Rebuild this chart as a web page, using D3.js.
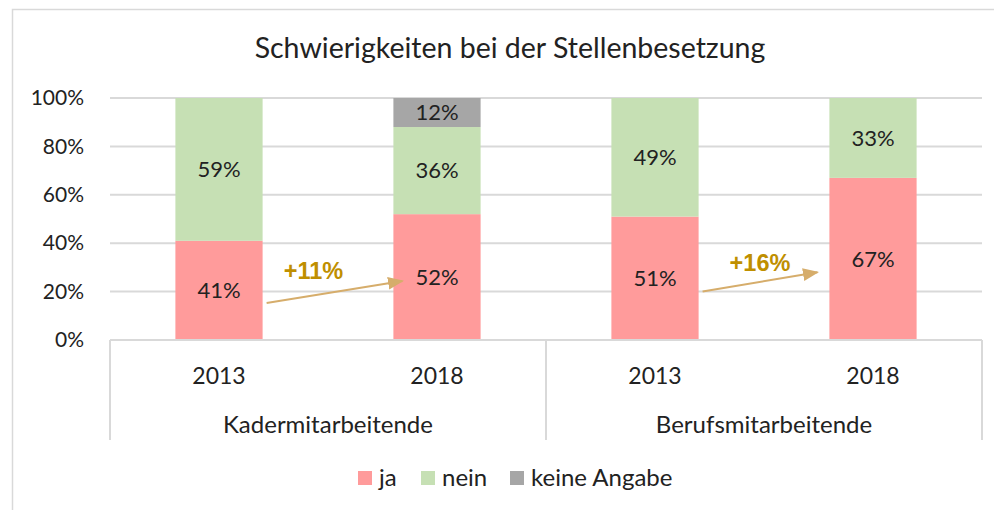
<!DOCTYPE html>
<html>
<head>
<meta charset="utf-8">
<script src="https://cdn.jsdelivr.net/npm/d3@7"></script>
<style>
  body { margin: 0; background: #fff; }
  svg text { font-family: Lato, "Open Sans", sans-serif; fill: #222; }
</style>
</head>
<body>
<div id="chart"></div>
<script>
// data
var groups = ["Kadermitarbeitende", "Berufsmitarbeitende"];
var years = ["2013", "2018", "2013", "2018"];
var ja = [41, 52, 51, 67];
var nein = [59, 36, 49, 33];
var keine = [0, 12, 0, 0];
var seriesNames = ["ja", "nein", "keine Angabe"];
var yTicks = [0, 20, 40, 60, 80, 100];
// arrows: from bar i to bar i+1, values in %
var arrowFrom = [0, 2];
var arrowStart = [15.3, 20];
var arrowEnd = [24.4, 28];
var arrowText = ["+11%", "+16%"];
var arrowTextY = [28.5, 32];

var colors = ["#ff9b9b", "#c6e0b4", "#a6a6a6"];

var width = 994, height = 510;
var margin = { top: 98, left: 110, right: 12, bottom: 170 };
var plotW = width - margin.left - margin.right;
var plotH = height - margin.top - margin.bottom;

const svg = d3.select("#chart").append("svg")
  .attr("width", width)
  .attr("height", height);

// outer frame
svg.append("rect")
  .attr("x", 12.5).attr("y", 9.5)
  .attr("width", 1000).attr("height", 520)
  .attr("fill", "none")
  .attr("stroke", "#d9d9d9")
  .attr("stroke-width", 1.5);

svg.append("text")
  .attr("x", 510).attr("y", 58)
  .attr("text-anchor", "middle")
  .style("font-size", "28.5px")
  .text("Schwierigkeiten bei der Stellenbesetzung");

const container = svg.append("g")
  .attr("transform", `translate(${margin.left}, ${margin.top})`);

const xScale = d3.scaleBand()
  .domain(d3.range(years.length))
  .range([0, plotW])
  .paddingInner(0.6)
  .paddingOuter(0.3);

const yScale = d3.scaleLinear()
  .domain([0, 100])
  .range([plotH, 0]);

// grid
container.append("g")
  .selectAll("line")
  .data(yTicks.slice(1))
  .join("line")
  .attr("x1", 0).attr("x2", plotW)
  .attr("y1", d => yScale(d)).attr("y2", d => yScale(d))
  .attr("stroke", "#d9d9d9")
  .attr("stroke-width", 2);

// y axis labels
const yAxis = d3.axisLeft(yScale)
  .tickValues(yTicks)
  .tickFormat(d => d + "%")
  .tickSize(0)
  .tickPadding(26);
const yAxisGroup = container.append("g").call(yAxis);
yAxisGroup.select(".domain").remove();
yAxisGroup.selectAll("text").style("font-size", "21px");

// stacks
var stackData = years.map((y, i) => ({ i: i, ja: ja[i], nein: nein[i], keine: keine[i] }));
var stacked = d3.stack().keys(["ja", "nein", "keine"])(stackData);

stacked.forEach((layer, k) => {
  const g = container.append("g");
  g.selectAll("rect")
    .data(layer.filter(d => d[1] - d[0] > 0))
    .join("rect")
    .attr("x", d => xScale(d.data.i))
    .attr("width", xScale.bandwidth())
    .attr("y", d => yScale(d[1]))
    .attr("height", d => yScale(d[0]) - yScale(d[1]))
    .attr("fill", colors[k]);
  g.selectAll("text")
    .data(layer.filter(d => d[1] - d[0] > 0))
    .join("text")
    .attr("x", d => xScale(d.data.i) + xScale.bandwidth() / 2)
    .attr("y", d => yScale((d[0] + d[1]) / 2))
    .attr("dy", "0.35em")
    .attr("text-anchor", "middle")
    .style("font-size", "22px")
    .text(d => (d[1] - d[0]) + "%");
});

// bottom category box
const boxH = 100;
const axisG = container.append("g").attr("transform", `translate(0, ${plotH})`);
axisG.append("line")
  .attr("x1", 0).attr("x2", plotW)
  .attr("y1", 0).attr("y2", 0)
  .attr("stroke", "#d9d9d9").attr("stroke-width", 2);
var step = xScale.step();
var groupEdges = [0, xScale(2) - step * xScale.paddingInner() / 2, plotW];
axisG.selectAll("line.sep")
  .data(groupEdges)
  .join("line")
  .attr("class", "sep")
  .attr("x1", d => d).attr("x2", d => d)
  .attr("y1", 0).attr("y2", boxH)
  .attr("stroke", "#d9d9d9").attr("stroke-width", 2);

axisG.selectAll("text.year")
  .data(years)
  .join("text")
  .attr("class", "year")
  .attr("x", (d, i) => xScale(i) + xScale.bandwidth() / 2)
  .attr("y", 36)
  .attr("dy", "0.35em")
  .attr("text-anchor", "middle")
  .style("font-size", "23px")
  .text(d => d);

axisG.selectAll("text.group")
  .data(groups)
  .join("text")
  .attr("class", "group")
  .attr("x", (d, gi) => (groupEdges[gi] + groupEdges[gi + 1]) / 2)
  .attr("y", 85)
  .attr("dy", "0.35em")
  .attr("text-anchor", "middle")
  .style("font-size", "24px")
  .text(d => d);

// arrows
svg.append("defs").append("marker")
  .attr("id", "head")
  .attr("viewBox", "0 0 10 10")
  .attr("refX", 9).attr("refY", 5)
  .attr("markerWidth", 8).attr("markerHeight", 8)
  .attr("orient", "auto")
  .append("path")
  .attr("d", "M0,1 L10,5 L0,9 z")
  .attr("fill", "#d6ad6b");

var tipShift = [9, -12];
var labelShift = [-21, 0];
arrowFrom.forEach((b, k) => {
  var x1 = xScale(b) + xScale.bandwidth() + 4;
  var x2 = xScale(b + 1) + tipShift[k];
  container.append("line")
    .attr("x1", x1).attr("y1", yScale(arrowStart[k]))
    .attr("x2", x2).attr("y2", yScale(arrowEnd[k]))
    .attr("stroke", "#d6ad6b")
    .attr("stroke-width", 2)
    .attr("marker-end", "url(#head)");
  container.append("text")
    .attr("x", (x1 + x2) / 2 + labelShift[k])
    .attr("y", yScale(arrowTextY[k]))
    .attr("dy", "0.35em")
    .attr("text-anchor", "middle")
    .style("font-family", "'Liberation Sans', Arial, sans-serif")
    .style("font-weight", "bold")
    .style("font-size", "23.5px")
    .style("fill", "#bf8f00")
    .text(arrowText[k]);
});

// legend
const legend = svg.append("g").attr("transform", "translate(358, 478)");
var legendX = [0, 63, 152];
seriesNames.forEach((n, k) => {
  legend.append("rect")
    .attr("x", legendX[k]).attr("y", -7)
    .attr("width", 14).attr("height", 14)
    .attr("fill", colors[k]);
  legend.append("text")
    .attr("x", legendX[k] + 21).attr("y", 0)
    .attr("dy", "0.35em")
    .style("font-size", "24px")
    .text(n);
});
</script>
</body>
</html>
